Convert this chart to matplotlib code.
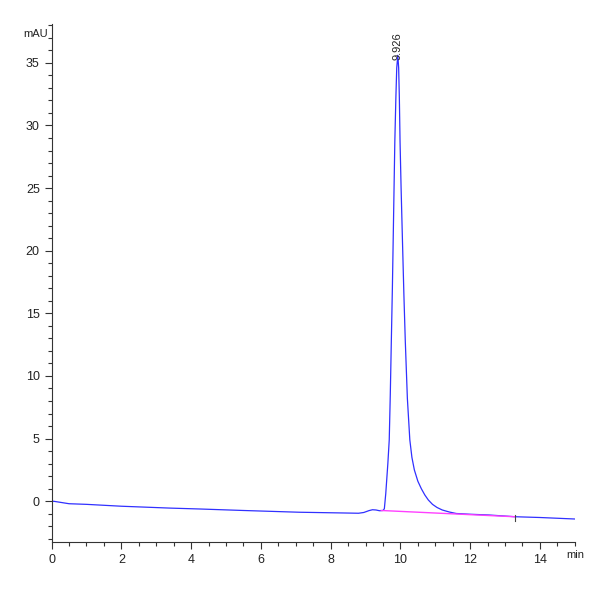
import matplotlib
matplotlib.use('Agg')
import matplotlib.pyplot as plt
from matplotlib.ticker import MultipleLocator

# signal trace (time in min, signal in mAU)
time_min = [0.0, 0.05, 0.5, 1.0, 2.0, 3.4, 4.24, 5.5, 7.1, 8.4, 8.8, 8.95, 9.1, 9.2, 9.3, 9.4, 9.5, 9.54,
            9.58, 9.61, 9.64, 9.68, 9.71, 9.74, 9.77, 9.80, 9.84, 9.87, 9.895, 9.926, 9.95, 9.97,
            9.99, 10.02, 10.06, 10.10, 10.14, 10.20, 10.27, 10.33, 10.4, 10.5, 10.6, 10.7,
            10.8, 10.92, 11.05, 11.2, 11.4, 11.6, 12.0, 12.54, 13.3, 14.0, 15.0]
signal_mau = [-0.1, 0.0, -0.2, -0.25, -0.4, -0.55, -0.62, -0.74, -0.88, -0.94, -0.96, -0.9, -0.75, -0.68, -0.7, -0.76, -0.74, -0.6,
              0.6, 1.8, 3.0, 4.9, 8.5, 12.8, 17.0, 22.0, 28.7, 32.2, 34.6, 35.6, 34.6, 32.2,
              28.7, 25.0, 20.7, 16.5, 12.8, 8.2, 4.9, 3.5, 2.5, 1.6, 1.0, 0.5,
              0.1, -0.25, -0.5, -0.7, -0.86, -0.98, -1.04, -1.1, -1.24, -1.3, -1.42]

# integration baseline
base_t = [9.45, 13.28]
base_y = [-0.74, -1.24]

peak_rt = 9.926
peak_h = 35.6

fnt = ['Liberation Sans', 'DejaVu Sans']

fig = plt.figure(figsize=(6, 6), dpi=100)
ax = fig.add_axes([0.086, 0.097, 0.872, 0.863])

ax.plot(time_min, signal_mau, color='#3030ff', lw=0.9)
ax.plot(base_t, base_y, color='#ff40ff', lw=1.0)
ax.plot([base_t[1], base_t[1]], [base_y[1] - 0.3, base_y[1] + 0.1], color='#444444', lw=0.8)

ax.text(peak_rt, peak_h - 0.4, '%.3f' % peak_rt, rotation=90, ha='center', va='bottom',
        fontsize=8, color='#222222', family=fnt)

ax.set_xlim(0, 15)
ax.set_ylim(-3.24, 38.1)
ax.spines['top'].set_visible(False)
ax.spines['right'].set_visible(False)
for s in ('left', 'bottom'):
    ax.spines[s].set_color('#333333')
    ax.spines[s].set_linewidth(0.8)

ax.xaxis.set_minor_locator(MultipleLocator(0.5))
ax.yaxis.set_minor_locator(MultipleLocator(1))
ax.set_xticks([0, 2, 4, 6, 8, 10, 12, 14])
ax.set_yticks([0, 5, 10, 15, 20, 25, 30, 35])
ax.tick_params(which='major', length=5, width=0.8, color='#333333', labelsize=9, labelcolor='#222222')
ax.tick_params(which='minor', length=3, width=0.8, color='#333333')
for lbl in ax.get_xticklabels() + ax.get_yticklabels():
    lbl.set_family(fnt)

ax.text(-0.1, 37.3, 'mAU', ha='right', va='center', fontsize=8, color='#222222', family=fnt)
ax.text(14.75, -4.3, 'min', ha='left', va='center', fontsize=8, color='#222222',
        family=fnt, clip_on=False)

fig.savefig('out.png', dpi=100)
